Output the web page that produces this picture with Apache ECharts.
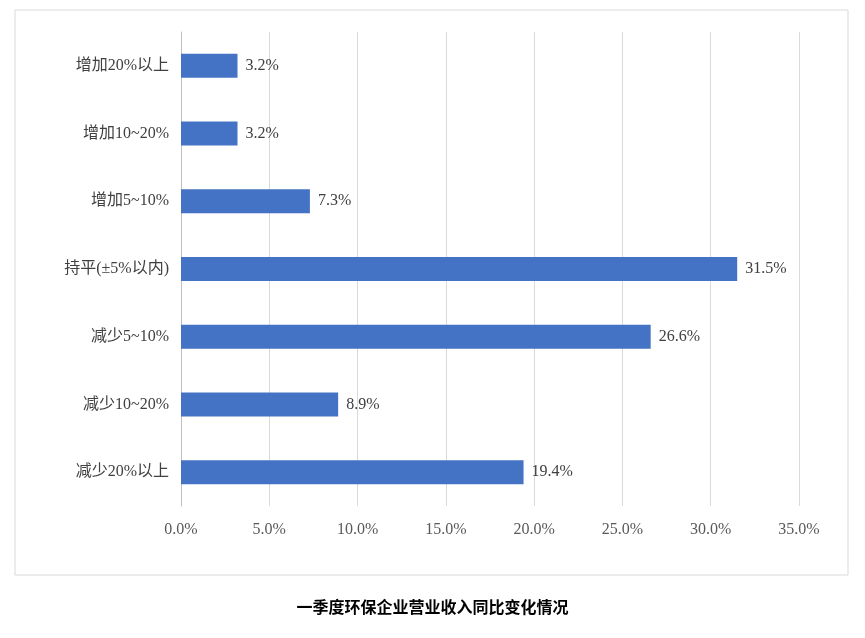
<!DOCTYPE html>
<html><head><meta charset="utf-8">
<script src="https://cdn.jsdelivr.net/npm/echarts@6/dist/echarts.min.js"></script>
<style>html,body{margin:0;padding:0;background:#fff}#c{width:865px;height:638px}</style>
</head><body><div id="c"></div>
<script>
const categories = ['增加20%以上','增加10~20%','增加5~10%','持平(±5%以内)','减少5~10%','减少10~20%','减少20%以上'];
const values = [3.2,3.2,7.3,31.5,26.6,8.9,19.4];
const title = '一季度环保企业营业收入同比变化情况';
const font = "'Liberation Serif','Noto Sans CJK SC',serif";
const chart = echarts.init(document.getElementById('c'));
chart.setOption({
  animation:false,
  textStyle:{fontFamily:font},
  graphic:[{type:'rect',shape:{x:15,y:10,width:833,height:565},style:{fill:'none',stroke:'#d9d9d9',lineWidth:1}}],
  title:{text:title,left:'center',top:596,textStyle:{fontFamily:font,fontSize:16,fontWeight:'bold',color:'#000'}},
  grid:{left:181,right:66,top:32,bottom:132},
  xAxis:{type:'value',min:0,max:35,interval:5,
    axisLabel:{formatter:v=>v.toFixed(1)+'%',color:'#595959',fontSize:16,margin:16,fontFamily:font},
    splitLine:{lineStyle:{color:'#d9d9d9'}},axisLine:{show:false},axisTick:{show:false}},
  yAxis:{type:'category',inverse:true,data:categories,
    axisLabel:{color:'#404040',fontSize:16,margin:12,fontFamily:font},
    axisLine:{lineStyle:{color:'#bfbfbf'}},axisTick:{show:false}},
  series:[{type:'bar',data:values,barWidth:24,itemStyle:{color:'#4472C4'},
    label:{show:true,position:'right',formatter:p=>p.value.toFixed(1)+'%',color:'#404040',fontSize:16,fontFamily:font,distance:8}}]
});
</script></body></html>
